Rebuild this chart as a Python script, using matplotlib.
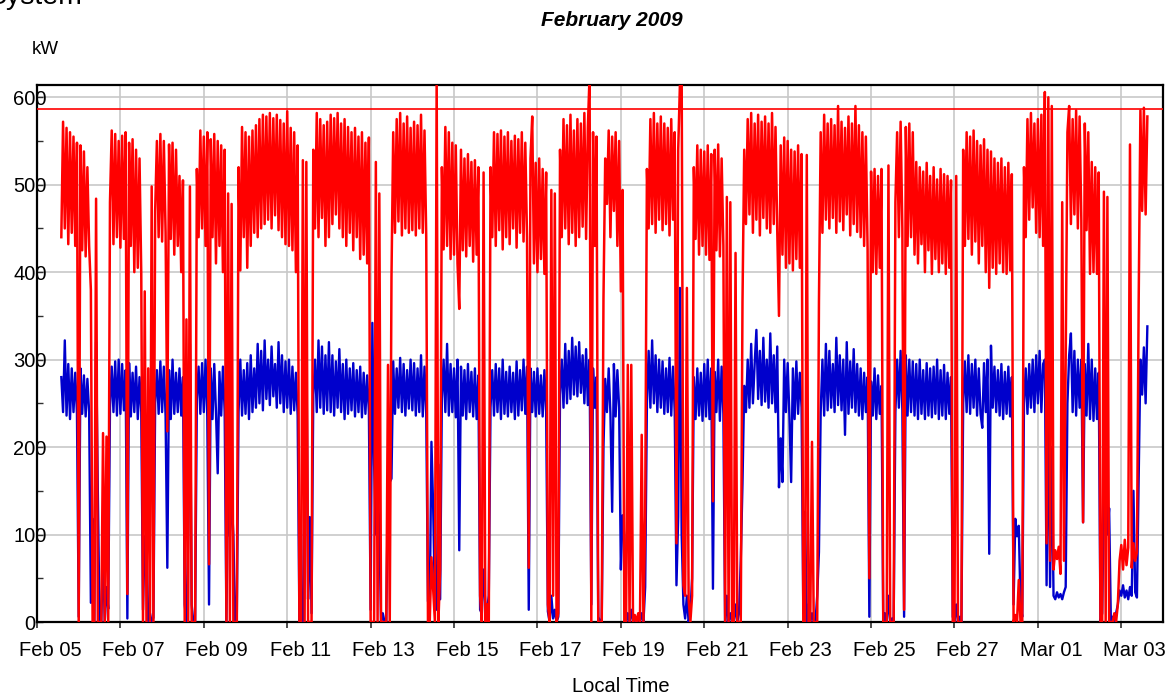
import datetime as dt

import matplotlib
matplotlib.use("Agg")
import matplotlib.pyplot as plt
import matplotlib.dates as mdates
from matplotlib.transforms import ScaledTranslation

plt.rcParams['font.family'] = ['Liberation Sans', 'DejaVu Sans']

# Hourly demand readings, one row per calendar day starting Feb 05.
# The first row begins at 14:00, the last row ends at 15:00 on Mar 03.
first_day = dt.datetime(2009, 2, 5)

red_kw = [
    [440, 572, 450, 565, 432, 560, 445, 555, 430, 548],
    [0, 545, 425, 538, 418, 520, 430, 380, 0, 0, 484, 0, 0, 0, 216, 0, 212, 0, 480, 562, 432, 558, 440, 550],
    [428, 556, 438, 560, 32, 548, 430, 552, 400, 540, 405, 530, 398, 0, 378, 0, 290, 0, 498, 0, 470, 550, 440, 558],
    [435, 550, 445, 218, 546, 438, 548, 420, 540, 430, 510, 400, 505, 0, 346, 0, 498, 0, 0, 0, 518, 440, 562, 450],
    [555, 430, 560, 66, 552, 440, 558, 410, 550, 430, 545, 400, 540, 0, 490, 0, 478, 0, 0, 0, 520, 402, 566, 440],
    [560, 405, 555, 430, 562, 445, 568, 440, 575, 450, 580, 455, 578, 460, 582, 450, 576, 465, 580, 448, 574, 440, 570, 432],
    [584, 430, 565, 425, 560, 400, 545, 0, 0, 528, 0, 526, 0, 0, 0, 540, 450, 582, 440, 575, 462, 568, 430, 572],
    [440, 580, 455, 576, 466, 582, 450, 570, 440, 575, 430, 566, 445, 560, 425, 565, 440, 555, 415, 560, 420, 548, 410, 554],
    [0, 0, 0, 526, 0, 490, 0, 0, 0, 0, 294, 0, 394, 560, 445, 575, 458, 582, 442, 570, 450, 578, 445, 565],
    [448, 572, 442, 568, 450, 580, 445, 562, 440, 0, 0, 74, 38, 0, 625, 0, 60, 520, 426, 566, 430, 560, 415, 548],
    [420, 545, 410, 358, 540, 425, 530, 418, 535, 430, 526, 412, 528, 420, 520, 30, 0, 514, 0, 20, 0, 520, 440, 560],
    [430, 558, 448, 562, 426, 555, 440, 560, 432, 550, 450, 556, 428, 552, 445, 560, 435, 548, 440, 62, 530, 578, 410, 525],
    [400, 530, 415, 518, 398, 514, 20, 0, 494, 30, 490, 0, 10, 540, 440, 575, 450, 568, 432, 580, 445, 562, 430, 575],
    [440, 570, 452, 582, 438, 565, 625, 0, 560, 430, 555, 0, 0, 0, 370, 530, 478, 562, 440, 555, 470, 560, 430, 550],
    [378, 494, 0, 0, 294, 0, 294, 0, 8, 0, 10, 0, 214, 0, 120, 518, 450, 575, 455, 582, 445, 570, 460, 578],
    [448, 570, 455, 565, 442, 575, 460, 560, 90, 540, 615, 625, 42, 30, 382, 26, 0, 30, 520, 438, 545, 420, 540, 430],
    [538, 420, 545, 414, 535, 138, 540, 425, 546, 418, 530, 430, 0, 486, 0, 480, 0, 0, 422, 0, 0, 0, 366, 540],
    [455, 575, 466, 582, 445, 570, 460, 580, 442, 572, 462, 578, 450, 570, 445, 582, 455, 566, 448, 350, 545, 420, 554, 405],
    [550, 410, 540, 402, 538, 415, 545, 405, 535, 0, 0, 534, 0, 0, 206, 0, 0, 0, 366, 560, 445, 580, 460, 570],
    [450, 575, 462, 568, 445, 590, 458, 572, 448, 565, 466, 578, 442, 570, 455, 590, 446, 568, 440, 560, 430, 555, 426, 50],
    [515, 400, 518, 398, 510, 405, 518, 0, 0, 0, 522, 0, 0, 0, 480, 560, 440, 572, 450, 14, 566, 430, 570, 440],
    [560, 420, 526, 410, 520, 432, 515, 400, 525, 425, 510, 398, 520, 415, 506, 400, 518, 410, 512, 398, 510, 405, 505, 0],
    [0, 510, 0, 0, 0, 540, 430, 560, 438, 555, 420, 562, 435, 550, 410, 545, 430, 552, 400, 540, 382, 538, 405, 530],
    [398, 525, 410, 530, 400, 520, 398, 525, 402, 512, 0, 8, 0, 48, 0, 0, 520, 440, 575, 460, 582, 474, 570, 445],
    [575, 440, 580, 430, 606, 90, 600, 70, 590, 60, 82, 72, 86, 55, 480, 70, 300, 560, 590, 455, 575, 466, 585, 450],
    [578, 460, 114, 570, 448, 560, 398, 526, 400, 520, 398, 514, 0, 0, 492, 0, 486, 0, 0, 0, 10, 0, 20, 70],
    [88, 60, 94, 65, 85, 546, 62, 90, 70, 80, 366, 585, 470, 588, 466, 578],
]

blue_kw = [
    [280, 240, 322, 236, 295, 232, 290, 240, 285, 238],
    [6, 290, 238, 282, 235, 278, 240, 22, 118, 0, 320, 150, 0, 0, 80, 0, 40, 15, 245, 292, 240, 298, 236, 300],
    [238, 295, 242, 288, 4, 296, 235, 285, 240, 292, 232, 280, 240, 14, 98, 94, 0, 10, 0, 5, 250, 288, 238, 298],
    [240, 292, 235, 62, 288, 232, 300, 238, 285, 240, 290, 236, 280, 20, 0, 98, 318, 20, 0, 0, 255, 292, 238, 296],
    [240, 300, 235, 20, 290, 232, 295, 240, 170, 286, 236, 292, 240, 0, 178, 98, 140, 100, 0, 10, 240, 300, 236, 288],
    [238, 296, 232, 305, 240, 290, 245, 318, 250, 310, 242, 322, 255, 300, 248, 315, 258, 295, 245, 320, 250, 305, 240, 298],
    [245, 300, 238, 292, 242, 285, 236, 0, 6, 0, 178, 336, 26, 120, 10, 260, 300, 240, 322, 245, 315, 238, 305, 242],
    [320, 240, 305, 236, 298, 245, 312, 240, 295, 232, 300, 238, 290, 242, 296, 235, 288, 240, 292, 234, 285, 238, 282, 240],
    [14, 342, 180, 100, 150, 110, 0, 10, 0, 0, 164, 160, 164, 298, 238, 290, 245, 302, 240, 295, 236, 288, 244, 300],
    [242, 296, 236, 290, 240, 305, 235, 292, 238, 24, 14, 206, 130, 20, 14, 180, 26, 255, 300, 240, 318, 236, 295, 240],
    [290, 234, 300, 82, 292, 236, 288, 232, 295, 240, 286, 235, 290, 232, 282, 14, 10, 60, 20, 14, 30, 245, 288, 236],
    [295, 240, 290, 232, 300, 238, 286, 235, 292, 240, 285, 232, 298, 236, 288, 242, 300, 238, 292, 14, 290, 240, 286, 235],
    [290, 238, 282, 235, 288, 240, 12, 0, 30, 4, 14, 0, 6, 260, 300, 245, 318, 250, 310, 255, 325, 260, 315, 258],
    [320, 262, 305, 250, 312, 248, 300, 20, 290, 245, 280, 6, 0, 4, 200, 278, 240, 290, 238, 126, 295, 235, 288, 245],
    [60, 122, 98, 0, 10, 0, 14, 0, 4, 0, 6, 0, 10, 0, 40, 250, 310, 245, 322, 250, 305, 240, 300, 245],
    [298, 238, 290, 240, 302, 236, 292, 240, 42, 120, 382, 100, 20, 4, 30, 0, 10, 50, 280, 232, 290, 236, 285, 230],
    [295, 235, 300, 232, 290, 38, 286, 240, 300, 230, 292, 238, 0, 30, 0, 10, 0, 0, 20, 0, 10, 70, 158, 270],
    [240, 300, 245, 318, 250, 295, 334, 255, 310, 248, 325, 252, 300, 245, 330, 250, 305, 240, 315, 154, 210, 160, 300, 240],
    [296, 236, 160, 290, 232, 298, 238, 285, 245, 10, 126, 0, 20, 0, 10, 0, 0, 30, 80, 240, 300, 236, 318, 242],
    [310, 245, 295, 240, 325, 248, 305, 242, 300, 214, 320, 238, 298, 245, 312, 240, 295, 236, 290, 232, 285, 240, 280, 6],
    [275, 236, 290, 232, 282, 238, 270, 0, 10, 0, 30, 0, 4, 0, 240, 300, 245, 310, 242, 6, 305, 236, 300, 240],
    [298, 236, 295, 232, 300, 238, 288, 232, 296, 236, 290, 234, 292, 238, 300, 232, 288, 236, 294, 232, 285, 238, 280, 6],
    [0, 20, 0, 6, 0, 250, 298, 240, 305, 238, 295, 245, 300, 236, 290, 238, 222, 296, 240, 300, 78, 316, 245, 292],
    [240, 288, 236, 295, 232, 286, 238, 292, 235, 280, 20, 118, 98, 110, 20, 6, 250, 290, 238, 295, 245, 300, 240, 305],
    [250, 310, 240, 295, 300, 42, 260, 40, 200, 30, 26, 34, 28, 32, 26, 34, 40, 250, 305, 330, 240, 310, 236, 300],
    [245, 300, 114, 295, 236, 318, 232, 300, 230, 290, 232, 285, 0, 10, 150, 190, 100, 130, 0, 6, 0, 10, 20, 36],
    [30, 42, 28, 36, 26, 40, 30, 150, 34, 28, 160, 300, 260, 314, 250, 338],
]

limit_kw = 586
y_major = [0, 100, 200, 300, 400, 500, 600]
y_minor = [50, 150, 250, 350, 450, 550]
tick_dates = [first_day + dt.timedelta(days=2 * i) for i in range(14)]


def day_series(rows):
    """Turn per-day rows of hourly readings into (times, values)."""
    times, values = [], []
    for d, row in enumerate(rows):
        start = 24 - len(row) if d == 0 else 0
        for j, v in enumerate(row):
            times.append(first_day + dt.timedelta(hours=24 * d + start + j))
            values.append(v)
    return times, values


red_t, red_v = day_series(red_kw)
blue_t, blue_v = day_series(blue_kw)

W, H = 1174, 698
fig = plt.figure(figsize=(W / 100, H / 100), dpi=100)
left, right, top, bottom = 37, 1163, 85, 622
ax = fig.add_axes([left / W, 1 - bottom / H, (right - left) / W, (bottom - top) / H])

ax.plot(blue_t, blue_v, color='#0000CC', lw=1.7, zorder=3)
ax.plot(red_t, red_v, color='#FF0000', lw=1.8, zorder=4)
ax.axhline(limit_kw, color='#FF0000', lw=1.2, zorder=5)

ax.set_xlim(first_day, first_day + dt.timedelta(days=27))
ax.set_ylim(0, 614)

ax.set_xticks(tick_dates)
ax.xaxis.set_major_formatter(mdates.DateFormatter('%b %d'))
ax.set_yticks(y_major)
ax.set_yticks(y_minor, minor=True)
ax.grid(True, which='major', color='#C8C8C8', lw=1.2)
ax.set_axisbelow(True)

ax.tick_params(axis='x', which='major', direction='out', length=4, width=1.2,
               color='#303030', labelsize=14.5, pad=9.5)
ax.tick_params(axis='y', which='both', direction='in', length=4, width=1.0,
               color='#303030', labelsize=14.5, pad=5)
ax.tick_params(axis='x', which='minor', bottom=False)

shift = ScaledTranslation(0.13, 0, fig.dpi_scale_trans)
for lab in ax.get_xticklabels():
    lab.set_transform(lab.get_transform() + shift)
for lab in ax.get_yticklabels():
    lab.set_horizontalalignment('center')

for s in ax.spines.values():
    s.set_linewidth(1.6)
    s.set_color('black')

fig.text(-12 / W, 1 - 4 / H, 'System', fontsize=20.5, va='baseline', ha='left')
fig.text(612 / W, 1 - 20 / H, 'February 2009', fontsize=15, fontweight='bold',
         fontstyle='italic', ha='center', va='center')
fig.text(32 / W, 1 - 50 / H, 'kW', fontsize=13.5, ha='left', va='center')
fig.text(621 / W, 1 - 686 / H, 'Local Time', fontsize=14.5, ha='center', va='center')

fig.savefig('out.png', dpi=100)
